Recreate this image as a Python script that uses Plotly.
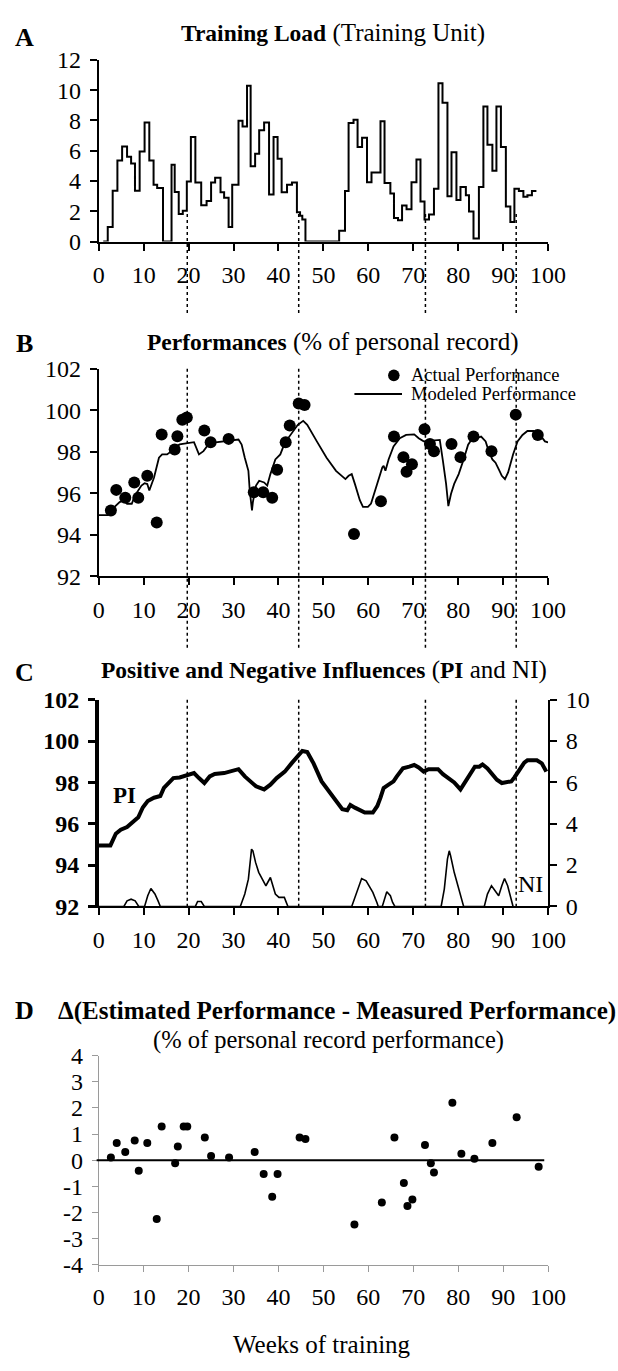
import plotly.graph_objects as go

W, H = 618, 1371
SERIF = "Liberation Serif, Times New Roman, serif"

# ---------------- data ----------------
# Panel A: training load (step starts, weeks) and values (training units)
load_week = [1, 2.0, 3.1, 4.15, 5.2, 6.3, 7.2, 8.06, 9.1, 10.2, 11.25, 12.2, 13.0, 14.3,
             16.2, 16.9, 17.8, 18.7, 19.6, 20.5, 21.5, 22.8, 24.0, 25.0, 25.9, 27.1, 27.9,
             28.9, 29.7, 31.1, 32.0, 33.0, 33.8, 34.8, 35.7, 36.8, 37.9, 38.9, 39.8, 40.7,
             41.9, 43.0, 44.1, 44.8, 45.3, 46.0, 53.5, 54.8, 55.6, 56.7, 57.6, 58.6, 59.7,
             60.7, 62.7, 63.6, 64.9, 65.7, 66.6, 67.5, 68.5, 69.6, 70.7, 71.6, 72.5, 73.5,
             74.6, 75.6, 76.5, 77.6, 78.5, 79.6, 80.5, 81.7, 82.4, 83.4, 84.6, 85.6, 86.5,
             87.6, 88.5, 89.5, 90.6, 91.6, 92.5, 93.5, 94.5, 95.4, 96.4, 97.4]
load_val = [0, 0.96, 3.36, 5.36, 6.28, 5.6, 5.16, 3.36, 5.94, 7.86, 5.36, 3.75, 3.54, 0,
            5.08, 3.28, 1.82, 2.04, 3.96, 6.9, 3.9, 2.4, 2.68, 3.9, 4.22, 3.26, 2.89,
            0.96, 3.75, 7.97, 7.6, 10.28, 4.97, 5.79, 7.35, 7.86, 3.11, 6.9, 5.46, 3.26,
            3.75, 3.9, 1.93, 1.71, 1.46, 0, 0.71, 3.34, 7.82, 8.04, 6.24, 6.86, 3.92,
            4.56, 7.95, 3.86, 3.17, 1.56, 1.41, 2.38, 2.14, 3.92, 5.42, 2.64, 1.46, 1.78,
            3.49, 10.46, 9.17, 3.0, 5.89, 2.74, 3.6, 3.06, 1.99, 0.21, 3.6, 8.91, 6.39,
            4.67, 8.91, 6.24, 2.31, 1.29, 3.49, 3.34, 2.96, 3.06, 3.34, 3.34]

# Panel B: actual performances (% of personal record)
perf_week = [2.7, 3.9, 5.9, 7.9, 8.8, 10.8, 12.9, 14.0, 16.9, 17.5, 18.6, 19.6, 23.5, 24.9,
             28.9, 34.5, 36.6, 38.6, 39.7, 41.6, 42.5, 44.5, 45.8, 56.8, 62.8, 65.7, 67.8,
             68.5, 69.7, 72.5, 73.7, 74.6, 78.5, 80.5, 83.4, 87.4, 92.8, 97.7]
perf_val = [95.17, 96.16, 95.78, 96.52, 95.78, 96.84, 94.59, 98.83, 98.11, 98.75, 99.54,
            99.65, 99.02, 98.46, 98.62, 96.05, 96.05, 95.78, 97.13, 98.46, 99.27, 100.33,
            100.25, 94.03, 95.61, 98.73, 97.74, 97.03, 97.40, 99.08, 98.37, 98.02, 98.37,
            97.74, 98.73, 98.02, 99.79, 98.81]

# Panel B: modeled performance
model_week = [0, 2.0, 2.7, 3.7, 4.65, 5.6, 6.3, 7.35, 8.06, 8.8, 9.5, 10.2, 10.8, 11.25,
              12.3, 13.4, 14.1, 15.2, 16.2, 17.3, 18.0, 19.4, 21.2, 22.3, 23.3, 24.4, 25.1,
              31.1, 31.8, 32.5, 33.3, 33.6, 34.1, 34.3, 35.0, 35.7, 36.8, 37.5, 38.2, 39.3,
              40.4, 41.4, 42.9, 44.3, 45.5, 46.4, 48.5, 50.7, 52.8, 54.9, 55.6, 56.3, 57.0,
              58.1, 58.8, 59.9, 60.6, 61.3, 62.4, 63.1, 63.4, 63.8, 64.5, 65.6, 67.0, 68.4,
              70.2, 71.2, 72.3, 75.9, 76.6, 77.3, 77.8, 78.4, 79.1, 80.1, 81.2, 82.2, 82.9,
              84.0, 85.1, 86.1, 86.8, 87.6, 88.3, 89.0, 89.7, 90.4, 91.1, 92.2, 93.2, 94.3,
              95.4, 96.8, 98.2, 99.3, 100]
model_val = [94.94, 94.94, 95.1, 95.38, 95.57, 95.65, 95.49, 95.49, 95.89, 96.13, 96.37,
             96.48, 96.44, 96.13, 96.76, 97.71, 97.87, 97.87, 98.03, 98.27, 98.35, 98.4,
             98.46, 97.87, 98.03, 98.35, 98.43, 98.59, 98.35, 97.71, 97.08, 96.13, 95.17,
             95.57, 96.37, 96.6, 96.52, 96.37, 96.92, 97.63, 97.87, 98.43, 98.9, 99.3, 99.49,
             99.3, 98.51, 97.71, 97.08, 96.68, 96.84, 96.92, 96.45, 95.66, 95.34, 95.34,
             95.5, 95.98, 96.76, 97.24, 97.32, 97.08, 97.63, 98.26, 98.65, 98.81, 98.84,
             98.65, 98.5, 98.57, 97.55, 96.45, 95.38, 95.97, 96.45, 96.92, 97.63, 98.34,
             98.57, 98.65, 98.73, 98.5, 98.02, 97.63, 97.47, 97.16, 96.84, 96.68, 97.0,
             97.87, 98.5, 98.81, 99.0, 99.0, 98.81, 98.5, 98.45]

# Panel C: positive influence (left axis) and negative influence (right axis)
pi_week = [0, 2.6, 3.8, 4.9, 6.3, 7.7, 8.8, 9.8, 10.9, 12.3, 13.7, 14.5, 15.3, 16.6, 18.0,
           19.4, 21.2, 22.3, 23.5, 24.7, 25.8, 27.9, 31.1, 32.5, 34.0, 35.0, 36.8, 38.2,
           39.6, 41.4, 42.9, 44.3, 45.3, 46.4, 47.8, 49.6, 51.4, 52.8, 54.2, 55.3, 56.0,
           57.0, 58.5, 59.2, 61.0, 62.0, 62.7, 63.4, 64.5, 65.6, 66.3, 67.7, 69.1, 70.2,
           71.2, 72.3, 73.4, 75.5, 76.6, 78.0, 79.1, 80.5, 81.6, 82.6, 83.7, 84.7, 85.4,
           86.5, 87.6, 88.6, 89.7, 90.8, 91.8, 92.5, 93.6, 94.7, 95.4, 97.5, 98.6, 99.3, 99.6]
pi_val = [94.95, 94.95, 95.52, 95.71, 95.84, 96.08, 96.31, 96.79, 97.1, 97.26, 97.34, 97.73,
          97.89, 98.21, 98.24, 98.33, 98.45, 98.21, 97.97, 98.29, 98.41, 98.45, 98.64, 98.29,
          97.97, 97.81, 97.66, 97.89, 98.21, 98.52, 98.92, 99.31, 99.52, 99.47, 98.92, 98.05,
          97.5, 97.1, 96.7, 96.65, 96.91, 96.78, 96.62, 96.54, 96.54, 96.86, 97.26, 97.73,
          97.89, 98.05, 98.28, 98.68, 98.76, 98.84, 98.72, 98.52, 98.64, 98.64, 98.4, 98.2,
          98.0, 97.66, 98.05, 98.44, 98.76, 98.76, 98.87, 98.68, 98.36, 98.13, 97.97, 98.0,
          98.05, 98.24, 98.6, 98.96, 99.07, 99.07, 98.92, 98.6, 98.52]
ni_week = [0, 5.6, 6.3, 7.2, 8.1, 8.9, 10.2, 10.9, 11.6, 12.5, 13.2, 13.7, 21.5, 22.0, 22.8,
           23.5, 31.5, 32.5, 33.3, 34.0, 34.3, 34.9, 35.6, 36.5, 37.2, 38.2, 38.7, 39.3,
           40.1, 41.3, 41.6, 42.1, 56.3, 57.4, 58.5, 59.5, 60.2, 61.0, 61.9, 62.2, 63.1,
           63.8, 64.1, 64.9, 65.4, 65.9, 76.2, 76.9, 77.6, 78.0, 78.3, 79.1, 79.9, 80.8,
           81.2, 85.8, 86.5, 87.4, 88.3, 89.0, 89.7, 90.3, 91.0, 91.7, 92.2]
ni_val = [0, 0, 0.27, 0.35, 0.27, 0, 0, 0.52, 0.87, 0.6, 0.27, 0, 0, 0.24, 0.24, 0, 0, 0.6,
          1.32, 2.77, 2.69, 2.13, 1.65, 1.32, 1.0, 1.4, 1.03, 0.6, 0.44, 0.44, 0.27, 0, 0,
          0.68, 1.35, 1.24, 1.0, 0.68, 0.19, 0, 0, 0.55, 0.71, 0.52, 0.19, 0, 0, 0.84, 2.29,
          2.69, 2.45, 1.65, 1.0, 0.27, 0, 0, 0.6, 1.0, 0.76, 0.52, 1.0, 1.35, 1.0, 0.35, 0]

# Panel D: estimated - measured performance
delta_week = [2.7, 4.0, 5.9, 8.0, 8.9, 10.8, 12.9, 14.0, 17.0, 17.6, 18.9, 19.7, 23.6, 25.0,
              29.0, 34.7, 36.7, 38.6, 39.8, 44.7, 46.0, 56.9, 63.0, 65.8, 67.9, 68.7, 69.8,
              72.6, 73.9, 74.6, 78.7, 80.7, 83.6, 87.6, 93.0, 97.9]
delta_val = [0.10, 0.66, 0.31, 0.75, -0.40, 0.66, -2.25, 1.29, -0.12, 0.52, 1.29, 1.29, 0.87,
             0.16, 0.10, 0.31, -0.53, -1.40, -0.53, 0.87, 0.81, -2.46, -1.62, 0.87, -0.87,
             -1.75, -1.5, 0.58, -0.12, -0.47, 2.20, 0.25, 0.05, 0.66, 1.64, -0.25]

# Key weeks (dotted markers)
key_weeks = [19.7, 44.5, 72.7, 92.9]

x_ticks = list(range(0, 101, 10))
d_ticks = [-4, -3, -2, -1, 0, 1, 2, 3, 4]
d_ticktext = [str(v) if v >= 0 else "-" + str(-v) for v in d_ticks]

assert len(load_week) == len(load_val)
assert len(perf_week) == len(perf_val)
assert len(model_week) == len(model_val)
assert len(pi_week) == len(pi_val)
assert len(ni_week) == len(ni_val)
assert len(delta_week) == len(delta_val)

# ---------------- geometry ----------------
def px_x(x):
    return x / W

def px_y(y):
    return 1 - y / H

X0, X1 = 96.5, 564.0
dom_x = [px_x(X0), px_x(X1)]
A_top, A_bot = 47.7, 233.0
B_top, B_bot = 362.7, 574.0
C_top, C_bot = 700.0, 910.7
D_top, D_bot = 1062.7, 1276.0

TICK_SIZE = 24
tickfont = dict(family=SERIF, size=TICK_SIZE, color="black")

fig = go.Figure()

fig.add_trace(go.Scatter(x=load_week, y=load_val, mode="lines",
                         line=dict(color="black", width=2, shape="hv"),
                         xaxis="x", yaxis="y", showlegend=False))
fig.add_trace(go.Scatter(x=model_week, y=model_val, mode="lines",
                         line=dict(color="black", width=1.8),
                         xaxis="x2", yaxis="y2", showlegend=False))
fig.add_trace(go.Scatter(x=perf_week, y=perf_val, mode="markers",
                         marker=dict(color="black", size=12),
                         xaxis="x2", yaxis="y2", showlegend=False))
fig.add_trace(go.Scatter(x=pi_week, y=pi_val, mode="lines",
                         line=dict(color="black", width=4),
                         xaxis="x3", yaxis="y3", showlegend=False))
fig.add_trace(go.Scatter(x=ni_week, y=ni_val, mode="lines",
                         line=dict(color="black", width=1.6),
                         xaxis="x3", yaxis="y5", showlegend=False))
fig.add_trace(go.Scatter(x=delta_week, y=delta_val, mode="markers",
                         marker=dict(color="black", size=8),
                         xaxis="x4", yaxis="y4", showlegend=False))


def xaxis(anchor, color="black", lw=2):
    return dict(domain=dom_x, range=[0, 100], anchor=anchor, tickmode="array",
                tickvals=x_ticks, ticks="outside", ticklen=7, tickwidth=lw,
                tickcolor=color, showline=True, linewidth=lw, linecolor=color,
                showgrid=False, zeroline=False, tickfont=tickfont,
                ticklabelstandoff=4)


def yaxis(anchor, top, bot, rng, dtick, color="black", lw=2, bold=False):
    tf = dict(tickfont)
    if bold:
        tf["weight"] = "bold"
    return dict(domain=[px_y(bot), px_y(top)], range=rng, anchor=anchor, dtick=dtick,
                tick0=rng[0], ticks="outside", ticklen=7, tickwidth=lw, tickcolor=color,
                showline=True, linewidth=lw, linecolor=color, showgrid=False,
                zeroline=False, tickfont=tf, ticklabelstandoff=4)


ya4 = yaxis("x4", D_top, D_bot, [-4, 4], 1, color="#9a9a9a", lw=1)
ya4.update(tickmode="array", tickvals=d_ticks, ticktext=d_ticktext, ticklen=6)
xa4 = xaxis("y4", color="#9a9a9a", lw=1)
xa4.update(ticklen=6)

ya3 = yaxis("x3", C_top, C_bot, [92, 102], 2, lw=3.5, bold=True)
ya3.update(tickwidth=3)
ya5 = dict(overlaying="y3", side="right", anchor="x3", range=[0, 10], dtick=2, tick0=0,
           ticks="outside", ticklen=7, tickwidth=1.5, tickcolor="black", showline=True,
           linewidth=1.5, linecolor="black", showgrid=False, zeroline=False,
           tickfont=tickfont, ticklabelstandoff=4)

fig.update_layout(
    width=W, height=H, margin=dict(l=0, r=0, t=0, b=0),
    paper_bgcolor="white", plot_bgcolor="rgba(0,0,0,0)",
    font=dict(family=SERIF, color="black"),
    showlegend=False,
    xaxis=xaxis("y"),
    yaxis=yaxis("x", A_top, A_bot, [0, 12], 2),
    xaxis2=xaxis("y2"),
    yaxis2=yaxis("x2", B_top, B_bot, [92, 102], 2),
    xaxis3=xaxis("y3"),
    yaxis3=ya3,
    yaxis5=ya5,
    xaxis4=xa4,
    yaxis4=ya4,
)

# dotted vertical lines through panels A-C
shapes = []
for w in key_weeks:
    for (y0, y1) in [(205, 308), (B_top, 647), (C_top, C_bot)]:
        shapes.append(dict(type="line", xref="x", yref="paper", x0=w, x1=w,
                           y0=px_y(y0), y1=px_y(y1),
                           line=dict(color="black", width=1.5, dash="dot")))
# zero reference line in D
shapes.append(dict(type="line", xref="paper", yref="y4", x0=px_x(94.3), x1=px_x(560),
                   y0=0, y1=0, line=dict(color="black", width=2)))
# legend symbols in B
shapes.append(dict(type="circle", xref="paper", yref="paper",
                   x0=px_x(397.5), x1=px_x(409.5), y0=px_y(375.3), y1=px_y(363.3),
                   fillcolor="black", line=dict(color="black", width=0)))
shapes.append(dict(type="line", xref="paper", yref="paper",
                   x0=px_x(362.5), x1=px_x(412), y0=px_y(388.3), y1=px_y(388.3),
                   line=dict(color="black", width=2)))
fig.update_layout(shapes=shapes)


def ann(text, x, y, size, xanchor="center", bold=False):
    fig.add_annotation(text=("<b>%s</b>" % text) if bold else text,
                       xref="paper", yref="paper", x=px_x(x), y=px_y(y),
                       xanchor=xanchor, yanchor="middle", showarrow=False,
                       font=dict(family=SERIF, size=size, color="black"))


def big(t):
    return '<span style="font-size:25px">%s</span>' % t


ann("A", 19, 25, 26, bold=True)
ann("<b>Training Load</b>" + big(" (Training Unit)"), 340.5, 20, 23.5)
ann("B", 19, 337, 26, bold=True)
ann("<b>Performances</b>" + big(" (% of personal record)"), 340, 335, 23.5)
ann("C", 19, 672, 26, bold=True)
ann("<b>Positive and Negative Influences</b>" + big(" (") + "<b>PI</b>" + big(" and NI)"),
    331, 670, 23.5)
ann("D", 19, 1017, 26, bold=True)
ann("<b>Δ(Estimated Performance - Measured Performance)</b>", 51.5, 1017, 25, xanchor="left")
ann("(% of personal record performance)", 336, 1047, 24.5)
ann("Weeks of training", 329, 1357, 25)
ann("PI", 123, 798, 23, bold=True)
ann("NI", 546, 888, 24)
ann("Actual Performance", 419, 369.3, 18.5, xanchor="left")
ann("Modeled Performance", 419, 388.3, 18.5, xanchor="left")

fig.write_html("out.html")
